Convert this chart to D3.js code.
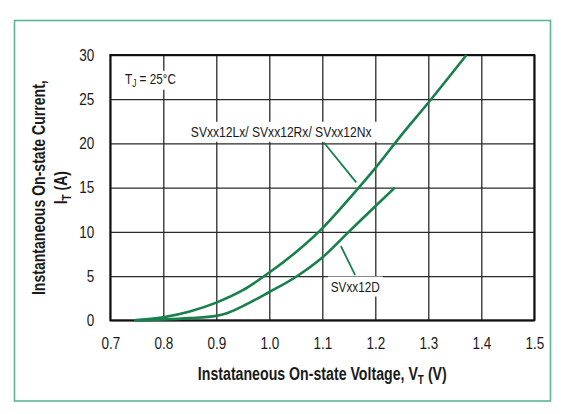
<!DOCTYPE html>
<html>
<head>
<meta charset="utf-8">
<script src="https://cdn.jsdelivr.net/npm/d3@7"></script>
<style>
  body { margin: 0; background: #fff; }
  svg { display: block; }
  text { font-family: "Liberation Sans", Arial, sans-serif; fill: #1a1a1a; }
</style>
</head>
<body>
<svg id="chart" width="575" height="414"></svg>
<script>
// axis ticks
var voltageTicks = [0.7, 0.8, 0.9, 1.0, 1.1, 1.2, 1.3, 1.4, 1.5];
var currentTicks = [0, 5, 10, 15, 20, 25, 30];

// SVxx12Lx / SVxx12Rx / SVxx12Nx curve
var lxVoltage = [0.745, 0.8, 0.85, 0.9, 0.95, 1.0, 1.05, 1.1, 1.15, 1.2, 1.25, 1.3, 1.372];
var lxCurrent = [0, 0.35, 1.0, 2.0, 3.4, 5.4, 7.7, 10.4, 13.7, 17.2, 21.0, 24.6, 30];

// SVxx12D curve
var dVoltage = [0.745, 0.8, 0.85, 0.9, 0.92, 0.95, 1.0, 1.05, 1.1, 1.15, 1.2, 1.237];
var dCurrent = [0, 0.1, 0.25, 0.5, 0.8, 1.6, 3.2, 4.9, 7.1, 10.0, 12.9, 15];

// labels and their leader lines (data coordinates)
var lxLabel = { text: "SVxx12Lx/ SVxx12Rx/ SVxx12Nx", v: 0.852, i: 20.75, w: 181, padR: 6, from: [1.103, 20.1], to: [1.164, 15.6] };
var dLabel = { text: "SVxx12D", v: 1.116, i: 3.25, w: 49, padR: 3, from: [1.135, 8.4], to: [1.162, 5.1] };

var svg = d3.select("#chart");
var curveColor = "#17804c";
var frameColor = "#5db596";

// squeeze a text horizontally around its anchor x, either by a factor or to a width
function squeeze(sel, factor, width) {
    var node = sel.node();
    var ax = +sel.attr("x") || 0;
    var k = width ? width / node.getBBox().width : factor;
    sel.attr("transform", "translate(" + ax + ",0) scale(" + k + ",1) translate(" + (-ax) + ",0)");
    return k;
}

// outer frame
svg.append("rect")
    .attr("x", 14.5).attr("y", 20.5)
    .attr("width", 536).attr("height", 380.5)
    .attr("fill", "none")
    .attr("stroke", frameColor)
    .attr("stroke-width", 1.6);

var plotLeft = 110.3, plotRight = 534.3, plotTop = 55, plotBottom = 320.3;
var plotWidth = plotRight - plotLeft, plotHeight = plotBottom - plotTop;

var xScale = d3.scaleLinear().domain([0.7, 1.5]).range([plotLeft, plotRight]);
var yScale = d3.scaleLinear().domain([0, 30]).range([plotBottom, plotTop]);

// grid + tick labels through the axes
var xAxis = svg.append("g")
    .attr("transform", "translate(0," + plotBottom + ")")
    .call(d3.axisBottom(xScale).tickValues(voltageTicks).tickFormat(d3.format(".1f"))
        .tickSizeInner(-plotHeight).tickSizeOuter(0).tickPadding(17));
var yAxis = svg.append("g")
    .attr("transform", "translate(" + plotLeft + ",0)")
    .call(d3.axisLeft(yScale).tickValues(currentTicks)
        .tickSizeInner(-plotWidth).tickSizeOuter(0).tickPadding(16));

[xAxis, yAxis].forEach(function (axis) {
    axis.select(".domain").remove();
    axis.selectAll(".tick line").attr("stroke", "#2a2a2a").attr("stroke-width", 1.3);
    axis.selectAll(".tick text")
        .attr("font-size", 16.5)
        .attr("fill", "#1a1a1a")
        .style("font-family", "'Liberation Sans', Arial, sans-serif")
        .each(function () { squeeze(d3.select(this), 0.82); });
});

// plot border
svg.append("rect")
    .attr("x", plotLeft).attr("y", plotTop)
    .attr("width", plotWidth).attr("height", plotHeight)
    .attr("fill", "none")
    .attr("stroke", "#111")
    .attr("stroke-width", 2);

// curves
var lineGen = d3.line()
    .x(function (d) { return xScale(d[0]); })
    .y(function (d) { return yScale(d[1]); })
    .curve(d3.curveMonotoneX);

[[lxVoltage, lxCurrent], [dVoltage, dCurrent]].forEach(function (series) {
    svg.append("path")
        .datum(d3.zip(series[0], series[1]))
        .attr("d", lineGen)
        .attr("fill", "none")
        .attr("stroke", curveColor)
        .attr("stroke-width", 2.6);
});

// curve labels with white backing boxes, then leader lines
[lxLabel, dLabel].forEach(function (label) {
    var ax = xScale(label.v);
    var g = svg.append("g");
    var box = g.append("rect").attr("fill", "#fff");
    var t = g.append("text")
        .attr("x", ax)
        .attr("y", yScale(label.i))
        .attr("font-size", 15.5)
        .text(label.text);
    var bb = t.node().getBBox();
    var k = label.w / bb.width;
    box.attr("x", bb.x - 3 / k).attr("y", bb.y - 1)
        .attr("width", bb.width + (3 + label.padR) / k).attr("height", bb.height + 3);
    g.attr("transform", "translate(" + ax + ",0) scale(" + k + ",1) translate(" + (-ax) + ",0)");
    svg.append("line")
        .attr("x1", xScale(label.from[0])).attr("y1", yScale(label.from[1]))
        .attr("x2", xScale(label.to[0])).attr("y2", yScale(label.to[1]))
        .attr("stroke", curveColor)
        .attr("stroke-width", 1.8);
});

// junction temperature note, on its own white patch
var tjX = xScale(0.7277), tjY = yScale(26.75);
var tjG = svg.append("g");
var tjBox = tjG.append("rect").attr("fill", "#fff");
var tj = tjG.append("text")
    .attr("x", tjX)
    .attr("y", tjY)
    .attr("font-size", 14);
tj.append("tspan").text("T");
tj.append("tspan").attr("dy", 3).attr("font-size", 10).text("J");
tj.append("tspan").attr("dy", -3).text(" = 25°C");
var tjBB = tj.node().getBBox();
tjBox.attr("x", tjBB.x - 4).attr("y", tjY - 13)
    .attr("width", tjBB.width + 8).attr("height", 19);
tjG.attr("transform", "translate(" + tjX + ",0) scale(" + (51 / tjBB.width) + ",1) translate(" + (-tjX) + ",0)");

// axis titles
var xTitle = svg.append("text")
    .attr("x", (plotLeft + plotRight) / 2)
    .attr("y", 380)
    .attr("text-anchor", "middle")
    .attr("font-size", 18.5)
    .attr("font-weight", "bold");
xTitle.append("tspan").text("Instataneous On-state Voltage, V");
xTitle.append("tspan").attr("dy", 4).attr("font-size", 13).text("T");
xTitle.append("tspan").attr("dy", -4).text(" (V)");
squeeze(xTitle, null, 249);

var yTitle = svg.append("g")
    .attr("transform", "translate(45," + ((plotTop + plotBottom) / 2) + ") rotate(-90)");
var yTitle1 = yTitle.append("text")
    .attr("text-anchor", "middle")
    .attr("font-size", 18.5)
    .attr("font-weight", "bold")
    .text("Instantaneous On-state Current,");
var k1 = squeeze(yTitle1, null, 215);
var yTitle2 = yTitle.append("text")
    .attr("y", 22)
    .attr("text-anchor", "middle")
    .attr("font-size", 18.5)
    .attr("font-weight", "bold");
yTitle2.append("tspan").text("I");
yTitle2.append("tspan").attr("dy", 4).attr("font-size", 13).text("T");
yTitle2.append("tspan").attr("dy", -4).text(" (A)");
squeeze(yTitle2, k1);
</script>
</body>
</html>
